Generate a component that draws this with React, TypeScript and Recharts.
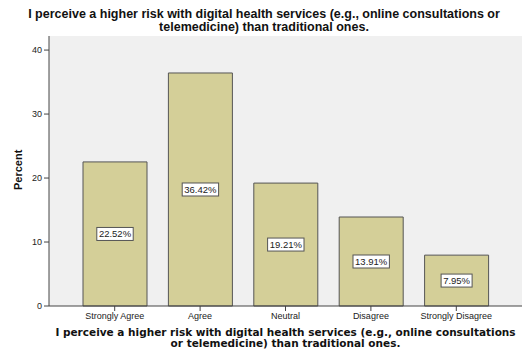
import { BarChart, Bar, XAxis, YAxis, LabelList } from 'recharts'

const categories = ['Strongly Agree', 'Agree', 'Neutral', 'Disagree', 'Strongly Disagree']
const percents = [22.52, 36.42, 19.21, 13.91, 7.95]
const yTicks = [0, 10, 20, 30, 40]

const titleLines = [
  'I perceive a higher risk with digital health services (e.g., online consultations or',
  'telemedicine) than traditional ones.',
]
const xTitleLines = [
  'I perceive a higher risk with digital health services (e.g., online consultations',
  'or telemedicine) than traditional ones.',
]

const data = categories.map((c, i) => ({ name: c, pct: percents[i] }))

const ValueBox = (props: any) => {
  const { x, y, width, height, value } = props
  const text = `${Number(value).toFixed(2)}%`
  const w = text.length * 5.4 + 4
  const cx = x + width / 2
  const cy = y + height / 2
  return (
    <g>
      <rect x={cx - w / 2} y={cy - 6.5} width={w} height={13} fill="#fff" stroke="#555" strokeWidth={1} />
      <text x={cx} y={cy + 3.5} textAnchor="middle" fontSize={9.5} fill="#222" fontFamily="Liberation Sans, Arial, sans-serif">
        {text}
      </text>
    </g>
  )
}

export default function App() {
  return (
    <div style={{ position: 'absolute', left: 0, top: 0, width: 528, height: 359, background: '#fff', fontFamily: 'Liberation Sans, Arial, sans-serif' }}>
      <div style={{ position: 'absolute', left: 0, top: 8, width: 528, textAlign: 'center', fontWeight: 'bold', fontSize: 12.5, lineHeight: '12.5px', color: '#111', whiteSpace: 'nowrap' }}>
        {titleLines.map((l) => <div key={l}>{l}</div>)}
      </div>
      <div style={{ position: 'absolute', left: 6, top: 150, width: 24, height: 40 }}>
        <div style={{ position: 'absolute', left: -8, top: 14, width: 40, textAlign: 'center', transform: 'rotate(-90deg)', fontWeight: 'bold', fontSize: 11, color: '#111' }}>
          Percent
        </div>
      </div>
      <div style={{ position: 'absolute', left: 49, top: 327, width: 473, textAlign: 'center', fontWeight: 'bold', fontSize: 10.5, lineHeight: '11px', fontFamily: 'DejaVu Sans, Verdana, sans-serif', color: '#111', whiteSpace: 'nowrap' }}>
        {xTitleLines.map((l) => <div key={l}>{l}</div>)}
      </div>
      <BarChart width={528} height={359} data={data} margin={{ top: 36, right: 6, left: 0, bottom: 0 }}>
        <rect x={49} y={36} width={473} height={270} fill="#f0f0f0" />
        <XAxis
          dataKey="name"
          height={53}
          padding={{ left: 23, right: 23 }}
          interval={0}
          tick={{ fontSize: 9, fill: '#222' }}
          tickSize={5}
          stroke="#444"
          axisLine={{ stroke: '#444' }}
          tickLine={{ stroke: '#444' }}
        />
        <XAxis xAxisId="top" orientation="top" dataKey="name" height={0} tick={false} tickLine={false} axisLine={{ stroke: '#444' }} />
        <YAxis
          width={49}
          domain={[0, 42.2]}
          ticks={yTicks}
          tick={{ fontSize: 9, fill: '#222' }}
          tickSize={5}
          axisLine={{ stroke: '#444' }}
          tickLine={{ stroke: '#444' }}
        />
        <YAxis yAxisId="right" orientation="right" width={0} tick={false} tickLine={false} axisLine={{ stroke: '#444' }} />
        <Bar dataKey="pct" fill="#d4cf98" stroke="#555" strokeWidth={1} barSize={64} isAnimationActive={false}>
          <LabelList dataKey="pct" content={ValueBox} />
        </Bar>
      </BarChart>
    </div>
  )
}
